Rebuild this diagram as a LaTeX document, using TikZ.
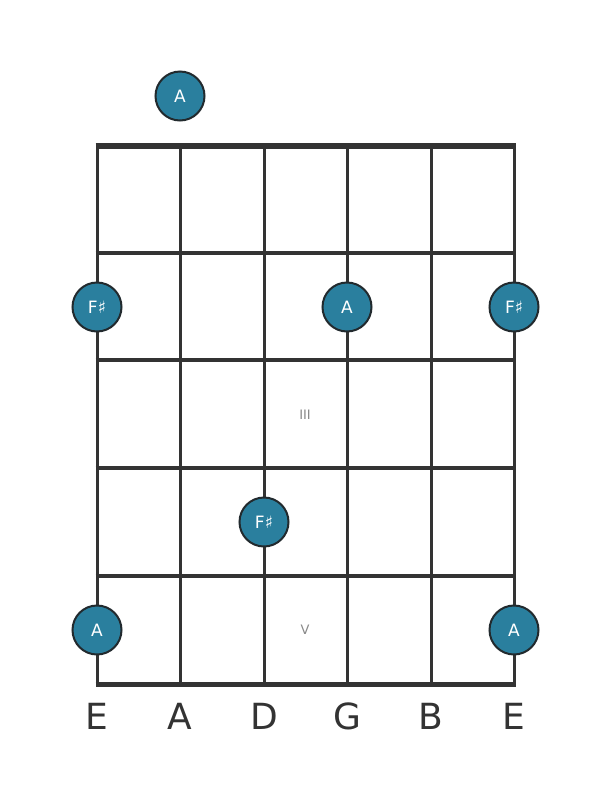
\documentclass[tikz,border=0pt]{standalone}
\usepackage{fontspec}
\setmainfont{DejaVu Sans}
\definecolor{linec}{HTML}{333333}
\definecolor{notefill}{HTML}{2A7F9E}
\definecolor{notedraw}{HTML}{222A2E}
\definecolor{markc}{HTML}{888888}
\begin{document}
\begin{tikzpicture}[x=1pt,y=-1pt,
  stringline/.style={draw=linec,line width=3pt},
  fretline/.style={draw=linec,line width=4pt},
  nutline/.style={draw=linec,line width=6pt},
  note/.style={circle,fill=notefill,draw=notedraw,line width=2pt,minimum size=49pt,inner sep=0pt,text=white,font=\fontsize{17}{17}\selectfont},
  fretmark/.style={text=markc,font=\fontsize{13}{13}\selectfont},
  strlabel/.style={text=linec,font=\fontsize{36}{36}\selectfont}]
\useasboundingbox (0,0) rectangle (611,801);
% strings
\foreach \x [count=\i] in {97,180,264,347,431,514} {
  \coordinate (st\i) at (\x,146);
  \coordinate (sb\i) at (\x,684);
  \draw[stringline] (st\i) -- (sb\i);
}
% frets
\foreach \y [count=\j] in {253,360,468,576} {
  \coordinate (fl\j) at (95.5,\y);
  \coordinate (fr\j) at (515.5,\y);
  \draw[fretline] (fl\j) -- (fr\j);
}
\coordinate (nl) at (95.5,146);
\coordinate (nr) at (515.5,146);
\draw[nutline] (nl) -- (nr);
\coordinate (bl) at (95.5,684);
\coordinate (br) at (515.5,684);
\draw[fretline,line width=5pt] (bl) -- (br);
% fret markers
\node[fretmark] (m3) at (305,415) {III};
\node[fretmark] (m5) at (305,630) {V};
% notes
\node[note] (n0) at (180,96) {A};
\node[note] (n1) at (97,307) {F♯};
\node[note] (n2) at (347,307) {A};
\node[note] (n3) at (514,307) {F♯};
\node[note] (n4) at (264,522) {F♯};
\node[note] (n5) at (97,630) {A};
\node[note] (n6) at (514,630) {A};
% string labels
\foreach \x/\t [count=\k] in {97/E,180/A,264/D,347/G,431/B,514/E} {
  \node[strlabel] (l\k) at (\x,716) {\t};
}
\end{tikzpicture}
\end{document}
